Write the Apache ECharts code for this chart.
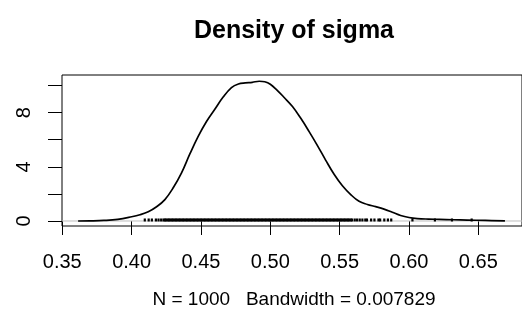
<!DOCTYPE html>
<html>
<head>
<meta charset="utf-8">
<script src="https://cdn.jsdelivr.net/npm/echarts@6/dist/echarts.min.js"></script>
<style>html,body{margin:0;padding:0;background:#fff;}#c{width:522px;height:326px;}</style>
</head>
<body>
<div id="c"></div>
<script>
const titleText = 'Density of sigma';
const subText = 'N = 1000   Bandwidth = 0.007829';
const xTicks = [0.35, 0.40, 0.45, 0.50, 0.55, 0.60, 0.65];
const yTicks = [0, 2, 4, 6, 8, 10];
const yLabels = [0, 4, 8];
const densityX = [0.3614,0.370,0.380,0.390,0.400,0.406,0.412,0.418,0.424,0.430,0.436,0.442,0.448,0.454,0.460,0.466,0.472,0.477,0.482,0.487,0.492,0.496,0.500,0.505,0.510,0.516,0.522,0.528,0.534,0.540,0.546,0.552,0.558,0.564,0.570,0.576,0.582,0.588,0.594,0.600,0.606,0.614,0.622,0.632,0.642,0.655,0.6692];
const densityY = [0.00,0.01,0.04,0.12,0.31,0.46,0.68,1.05,1.58,2.45,3.55,4.95,6.25,7.35,8.25,9.15,9.85,10.12,10.20,10.24,10.32,10.28,10.10,9.65,9.12,8.45,7.58,6.60,5.57,4.48,3.45,2.60,1.95,1.45,1.22,1.06,0.88,0.65,0.41,0.26,0.18,0.14,0.12,0.09,0.07,0.04,0.01];
const rugValues = [0.4095,0.4123,0.4146,0.4175,0.4194,0.4213,0.4230,
0.424,0.425,0.426,0.427,0.428,0.429,0.430,0.431,0.432,0.433,0.434,0.435,0.436,0.437,0.438,0.439,
0.440,0.441,0.442,0.443,0.444,0.445,0.446,0.447,0.448,0.449,0.450,0.451,0.452,0.453,0.454,0.455,0.456,0.457,0.458,0.459,
0.460,0.461,0.462,0.463,0.464,0.465,0.466,0.467,0.468,0.469,0.470,0.471,0.472,0.473,0.474,0.475,0.476,0.477,0.478,0.479,
0.480,0.481,0.482,0.483,0.484,0.485,0.486,0.487,0.488,0.489,0.490,0.491,0.492,0.493,0.494,0.495,0.496,0.497,0.498,0.499,
0.500,0.501,0.502,0.503,0.504,0.505,0.506,0.507,0.508,0.509,0.510,0.511,0.512,0.513,0.514,0.515,0.516,0.517,0.518,0.519,
0.520,0.521,0.522,0.523,0.524,0.525,0.526,0.527,0.528,0.529,0.530,0.531,0.532,0.533,0.534,0.535,0.536,0.537,0.538,0.539,
0.540,0.541,0.542,0.543,0.544,0.545,0.546,0.547,0.548,0.549,0.550,0.551,0.552,0.553,0.554,0.555,0.556,0.557,0.558,0.559,
0.5609,0.5626,0.5645,0.5664,0.5685,0.5697,0.5727,0.5751,0.5780,0.5792,0.5822,0.5848,0.5872,
0.6025,0.6187,0.6310,0.6452];

const FONT = '"Liberation Sans", Arial, Helvetica, sans-serif';
const chart = echarts.init(document.getElementById('c'), null, {renderer: 'canvas'});
const densityData = densityX.map((x, i) => [x, densityY[i]]);
const rugData = rugValues.map(v => [v, 0]);

chart.setOption({
  animation: false,
  backgroundColor: '#fff',
  grid: {left: 62, top: 75, right: -7, bottom: 100, show: true, borderColor: '#000', borderWidth: 1, backgroundColor: 'transparent'},
  xAxis: {
    type: 'value', min: 0.3498, max: 0.6815,
    splitLine: {show: false},
    axisLine: {show: false},
    axisTick: {show: true, length: 14, inside: false, customValues: xTicks, lineStyle: {color: '#000', width: 1}},
    axisLabel: {customValues: xTicks, margin: 26, fontSize: 20, color: '#000', fontFamily: FONT, formatter: v => v.toFixed(2)}
  },
  yAxis: {
    type: 'value', min: -0.37, max: 10.78,
    splitLine: {show: false},
    axisLine: {show: false},
    axisTick: {show: true, length: 14, inside: false, customValues: yTicks, lineStyle: {color: '#000', width: 1}},
    axisLabel: {customValues: yLabels, margin: 28, rotate: 90, align: 'center', verticalAlign: 'bottom', fontSize: 20, color: '#000', fontFamily: FONT, formatter: v => String(v)}
  },
  graphic: [
    {type: 'text', x: 294, y: 31, style: {text: titleText, textAlign: 'center', textVerticalAlign: 'middle', fontSize: 25, fontWeight: 'bold', fontFamily: FONT, fill: '#000'}},
    {type: 'text', x: 294, y: 300, style: {text: subText, textAlign: 'center', textVerticalAlign: 'middle', fontSize: 19, fontFamily: FONT, fill: '#000'}}
  ],
  series: [
    {
      type: 'line', data: [[0.3498, 0], [0.6815, 0]], symbol: 'none', silent: true,
      lineStyle: {color: '#bebebe', width: 1}, z: 1
    },
    {
      type: 'scatter', data: rugData, symbol: 'rect', symbolSize: [2.2, 3], symbolOffset: [0, -1],
      itemStyle: {color: '#000', opacity: 1}, silent: true, z: 2
    },
    {
      type: 'line', data: densityData, symbol: 'none', smooth: 0.4, silent: true,
      lineStyle: {color: '#000', width: 1.7}, z: 3
    }
  ]
});
</script>
</body>
</html>
